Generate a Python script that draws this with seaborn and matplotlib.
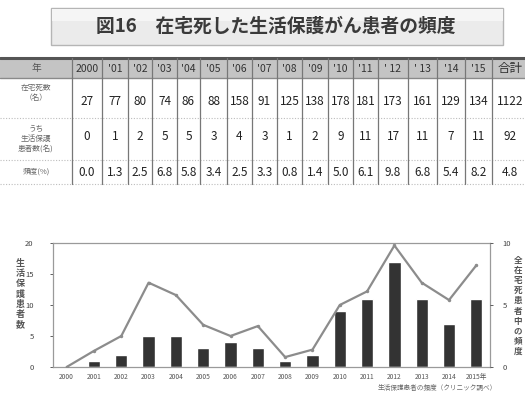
import numpy as np
import pandas as pd
import matplotlib
matplotlib.use("Agg")
import matplotlib.pyplot as plt
from matplotlib.patches import Rectangle, FancyBboxPatch
import seaborn as sns

# ---- data ----
years = ["2000", "2001", "2002", "2003", "2004", "2005", "2006", "2007",
         "2008", "2009", "2010", "2011", "2012", "2013", "2014", "2015年"]
table_heads = ["2000", "'01", "'02", "'03", "'04", "'05", "'06", "'07",
               "'08", "'09", "'10", "'11", "' 12", "' 13", "'14", "'15", "合計"]
home_deaths = [27, 77, 80, 74, 86, 88, 158, 91, 125, 138, 178, 181, 173, 161, 129, 134]
home_deaths_total = "1122"
welfare_patients = [0, 1, 2, 5, 5, 3, 4, 3, 1, 2, 9, 11, 17, 11, 7, 11]
welfare_total = 92
frequency = [0.0, 1.3, 2.5, 6.8, 5.8, 3.4, 2.5, 3.3, 0.8, 1.4, 5.0, 6.1, 9.8, 6.8, 5.4, 8.2]
frequency_total = 4.8

title = "図16　在宅死した生活保護がん患者の頻度"
row_labels = ["在宅死数\n（名）", "うち\n生活保護\n患者数(名)", "頻度(%)"]
left_label = "生活保護患者数"
right_label = "全在宅死患者中の頻度"
source_note = "生活保護患者の頻度（クリニック調べ）"

sns.set_theme(style="white")
plt.rcParams["font.family"] = ["Noto Sans CJK JP", "DejaVu Sans"]

W, H = 525, 394
fig = plt.figure(figsize=(W / 100, H / 100), dpi=100)

# ---- overlay in pixel coordinates for the title box and the table ----
ov = fig.add_axes([0, 0, 1, 1])
ov.set_xlim(0, W)
ov.set_ylim(H, 0)
ov.axis("off")

ov.add_patch(FancyBboxPatch((51, 8), 452, 37, boxstyle="square,pad=0",
                            fc="#ebebeb", ec="#b5b5b5", lw=1.0))
ov.add_patch(Rectangle((51.5, 8.5), 451, 12, fc="#f5f5f5", ec="none"))
ov.text(276, 26, title, ha="center", va="center", fontsize=13.5,
        color="#3a3a3a", fontweight="bold")

edges = [0, 72, 102, 128, 152, 177, 200, 227, 252, 277, 302, 328, 353,
         378, 408, 437, 465, 492, 540]
head_top, head_bot = 58, 78
row_bounds = [78, 118, 160, 184]

ov.add_patch(Rectangle((0, head_top), W, head_bot - head_top,
                       fc="#c4c4c4", ec="none"))
ov.plot([0, W], [head_top, head_top], color="#555555", lw=2.2)
ov.plot([0, W], [head_bot, head_bot], color="#8a8a8a", lw=1.0)
for yb in row_bounds[1:]:
    ov.plot([0, W], [yb, yb], color="#bdbdbd", lw=0.8, ls=(0, (1, 1.5)))
for x in edges[1:-1]:
    ov.plot([x, x], [head_top, row_bounds[-1]], color="#777777", lw=0.9)

centers = [(edges[i] + edges[i + 1]) / 2 for i in range(len(edges) - 1)]
centers[-1] = 510
ov.text(centers[0], (head_top + head_bot) / 2, "年", ha="center", va="center",
        fontsize=7, color="#555555")
for c, h in zip(centers[1:], table_heads):
    ov.text(c, (head_top + head_bot) / 2 + 0.5, h, ha="center", va="center",
            fontsize=7.5 if h != "合計" else 9, color="#333333")

row_y = [101, 137, 172]
label_y = [93, 139, 172]
for ry, ly, lab in zip(row_y, label_y, row_labels):
    ov.text(centers[0], ly, lab, ha="center", va="center", fontsize=5.5,
            color="#666666", linespacing=1.3)

row1 = [str(v) for v in home_deaths] + [home_deaths_total]
row2 = [str(v) for v in welfare_patients] + [str(welfare_total)]
row3 = [f"{v:.1f}" for v in frequency] + [f"{frequency_total:.1f}"]
for ry, vals in zip(row_y, [row1, row2, row3]):
    for c, v in zip(centers[1:], vals):
        ov.text(c, ry, v, ha="center", va="center", fontsize=8.5,
                color="#222222")

# ---- combined bar and line chart ----
ax = fig.add_axes([53 / W, 1 - 367 / H, (490 - 53) / W, (367 - 243) / H])
df = pd.DataFrame({"year": years, "patients": welfare_patients,
                   "freq": frequency})
sns.barplot(data=df, x="year", y="patients", color="#333333", width=0.45,
            saturation=1, ax=ax)
ax.set_xlim(-0.5, len(years) - 0.5)
ax.set_ylim(0, 20)
ax.set_yticks([0, 5, 10, 15, 20])
ax.set_xlabel("")
ax.set_ylabel("")
ax.tick_params(axis="y", labelsize=5.5, colors="#444444", length=2,
               width=0.6, pad=12)
ax.tick_params(axis="x", labelsize=4.8, colors="#555555", length=0, pad=4)
for s in ax.spines.values():
    s.set_color("#9a9a9a")
    s.set_linewidth(0.9)

ax2 = ax.twinx()
sns.lineplot(x=np.arange(len(years)), y=frequency, color="#8c8c8c",
             lw=1.6, marker="o", markersize=2.5, markeredgewidth=0,
             ax=ax2)
ax2.set_ylim(0, 10)
ax2.set_yticks([0, 5, 10])
ax2.tick_params(axis="y", labelsize=5.5, colors="#444444", length=2,
                width=0.6, pad=7)
for s in ax2.spines.values():
    s.set_visible(False)
ax.set_xlim(-0.5, len(years) - 0.5)

# stacked vertical axis labels
fig.text(20 / W, 1 - 294 / H, "\n".join(left_label), ha="center",
         va="center", fontsize=6.5, color="#555555", linespacing=1.15,
         fontweight="bold")
fig.text(518 / W, 1 - 306 / H, "\n".join(right_label), ha="center",
         va="center", fontsize=6.2, color="#555555", linespacing=1.15,
         fontweight="bold")
fig.text(497 / W, 1 - 388 / H, source_note, ha="right", va="center",
         fontsize=4.8, color="#666666")

fig.savefig("out.png", dpi=100)
